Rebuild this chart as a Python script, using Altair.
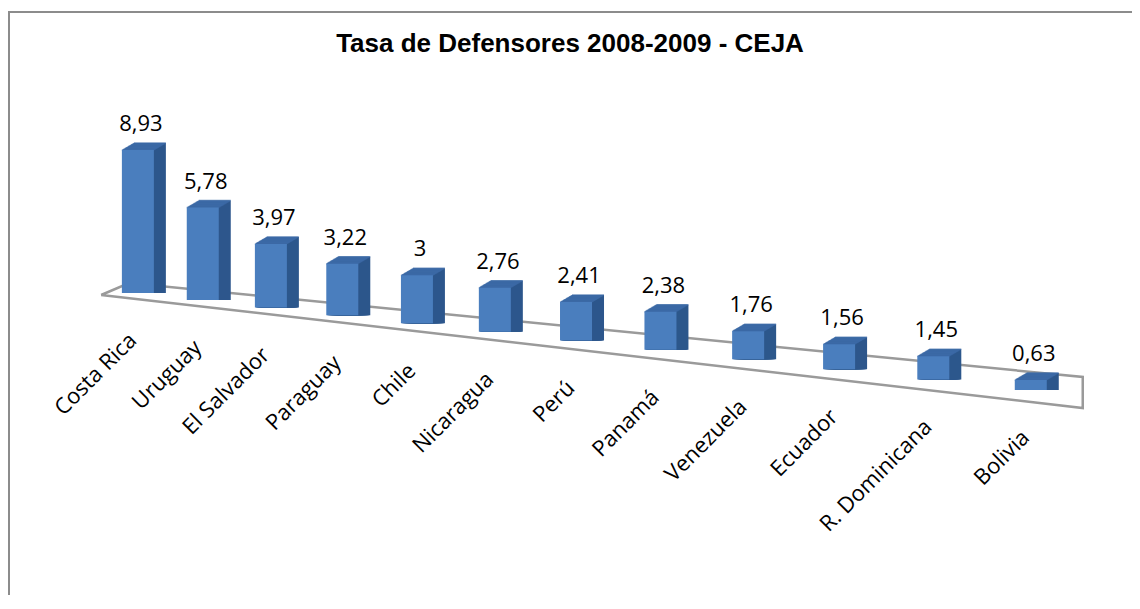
import altair as alt
import pandas as pd

# ---- data ----
countries = ["Costa Rica", "Uruguay", "El Salvador", "Paraguay", "Chile", "Nicaragua",
             "Perú", "Panamá", "Venezuela", "Ecuador", "R. Dominicana", "Bolivia"]
values = [8.93, 5.78, 3.97, 3.22, 3.0, 2.76, 2.41, 2.38, 1.76, 1.56, 1.45, 0.63]
value_labels = ["8,93", "5,78", "3,97", "3,22", "3", "2,76", "2,41", "2,38",
                "1,76", "1,56", "1,45", "0,63"]
title_text = "Tasa de Defensores 2008-2009 - CEJA"

# ---- layout / pseudo-3D style constants ----
W, H = 1124, 580
PAD_B = 4
DEPTH = 19.4       # perspective shift of the category index (pow scale)
TILT = 0.01107     # tilt of the floor
BAR_W = 32
DX, DY, STEPS = 12, 7, 12   # extrusion of the 3D boxes (pixels)
FRONT = "#4A7EBE"
TOP = "#3D6BA8"
SIDE = "#2D578C"
GRID = "#9a9a9a"

df = pd.DataFrame({"pais": countries, "valor": values, "etiqueta": value_labels,
                   "i": list(range(len(countries)))})

# floor outline (category-index units / value units)
floor_i = [-0.59, 11.52, 11.52, -0.14, -0.59]
floor_y = [-0.125, -7.19, -5.25, 0.625, -0.125]
floor_df = pd.DataFrame({"i": floor_i, "fy": floor_y, "k": list(range(len(floor_i)))})

xscale = alt.Scale(type="pow", exponent=2, domain=[17.313, 31.356], nice=False, zero=False)
yscale = alt.Scale(domain=[-18.625, 17.625], nice=False, zero=False)

base = alt.Chart(df).transform_calculate(
    u=f"datum.i + {DEPTH}",
    base=f"-{TILT} * ((datum.i + {DEPTH}) * (datum.i + {DEPTH}) - {DEPTH * DEPTH})",
).transform_calculate(
    top="datum.base + datum.valor"
)

X = alt.X("u:Q", scale=xscale, axis=None)
Ytop = alt.Y("top:Q", scale=yscale, axis=None)

layers = []

one = pd.DataFrame({"t": [title_text]})
layers.append(alt.Chart(one).mark_rule(color="#8c8c8c", strokeWidth=2).encode(
    x=alt.value(0), x2=alt.value(W), y=alt.value(1)))
layers.append(alt.Chart(one).mark_rule(color="#8c8c8c", strokeWidth=2).encode(
    x=alt.value(1), y=alt.value(0), y2=alt.value(H + PAD_B)))

layers.append(alt.Chart(floor_df).transform_calculate(u=f"datum.i + {DEPTH}").mark_line(
    color=GRID, strokeWidth=2.5).encode(
    x=X, y=alt.Y("fy:Q", scale=yscale, axis=None), order="k:Q"))

# side face: the front rectangle swept along the depth direction
for s in range(STEPS, 0, -1):
    ox = DX * s / STEPS
    oy = -DY * s / STEPS
    layers.append(base.mark_bar(width=BAR_W, color=SIDE, xOffset=ox, yOffset=oy).encode(
        x=X, y=Ytop, y2="base:Q"))

# top face: the top edge swept along the depth direction
for s in range(STEPS, -1, -1):
    ox = DX * s / STEPS
    oy = -DY * s / STEPS
    layers.append(base.mark_tick(orient="horizontal", size=BAR_W, thickness=1.5,
                                 color=TOP, xOffset=ox, yOffset=oy).encode(
        x=X, y=Ytop))

# front face
layers.append(base.mark_bar(width=BAR_W, color=FRONT).encode(x=X, y=Ytop, y2="base:Q"))

layers.append(base.mark_text(font="Open Sans", fontSize=22, align="center",
                             baseline="alphabetic", xOffset=3, yOffset=-19, color="black").encode(
    x=X, y=Ytop, text="etiqueta:N"))

layers.append(base.mark_text(font="Open Sans", fontSize=22, align="right", baseline="middle",
                             angle=315, xOffset=-5, yOffset=44, color="black").encode(
    x=X, y=alt.Y("base:Q", scale=yscale, axis=None), text="pais:N"))

layers.append(alt.Chart(one).mark_text(font="Liberation Sans", fontSize=26, fontWeight="bold",
                                       align="center", baseline="alphabetic", color="black").encode(
    text="t:N", x=alt.value(562), y=alt.value(41)))

chart = alt.layer(*layers).properties(
    width=W, height=H,
    padding={"left": 0, "top": 3, "right": 0, "bottom": PAD_B},
    autosize=alt.AutoSizeParams(type="none"),
    background="white",
).configure_view(stroke=None)

chart.save("out.html", embed_options={"renderer": "svg", "actions": False})
